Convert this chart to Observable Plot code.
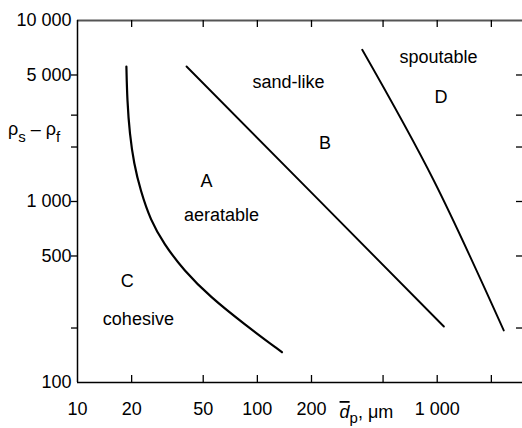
<!DOCTYPE html>
<html>
<head>
<meta charset="utf-8">
<script src="https://cdn.jsdelivr.net/npm/d3@7"></script>
<script src="https://cdn.jsdelivr.net/npm/@observablehq/plot@0.6"></script>
<style>
  html, body { margin: 0; padding: 0; background: #fff; }
</style>
</head>
<body>
<div id="chart"></div>
<script>
// Axis ticks
const xTicks = [10, 20, 50, 100, 200, 500, 1000, 2000];
const xTickLabels = ["10", "20", "50", "100", "200", "", "1 000", ""];
const yTicks = [100, 200, 500, 1000, 2000, 3000, 5000, 10000];
const yTickLabels = ["100", "", "500", "1 000", "", "", "5 000", "10 000"];

// Boundary C / A
const caX = [18.7, 18.9, 19.5, 20.6, 22.4, 25.5, 30.2, 39.0, 54.9, 84.1, 137];
const caY = [5570, 3614, 2366, 1616, 1150, 785, 584, 416, 296, 211, 147];
// Boundary A / B
const abX = [40.4, 209, 1089];
const abY = [5570, 1070, 204];
// Boundary B / D
const bdX = [383, 957, 2344];
const bdY = [6890, 1306, 194];

// Region labels
const regionText = ["sand-like", "spoutable", "D", "B", "A", "aeratable", "C", "cohesive"];
const regionX = [149, 1017, 1050, 237.8, 52.2, 63.2, 18.9, 21.8];
const regionY = [4550, 6285, 3769, 2092, 1290, 838, 361, 225];

const toPts = (xs, ys) => xs.map((x, i) => ({x, y: ys[i]}));
const labels = regionText.map((t, i) => ({t, x: regionX[i], y: regionY[i]}));

const W = 522, H = 428, mL = 77, mR = 0, mT = 20, mB = 46;
const fw = W - mL - mR, fh = H - mT - mB;
const innerY = yTicks.filter((d, i) => i > 0 && i < yTicks.length - 1);
const innerX = xTicks.slice(1);
const font = "'Liberation Sans', Arial, Helvetica, sans-serif";

const plot = Plot.plot({
  width: W, height: H,
  marginLeft: mL, marginRight: mR, marginTop: mT, marginBottom: mB,
  style: {fontFamily: font, fontSize: "18px", background: "#fff", color: "#000"},
  x: {type: "log", domain: [10, 2980]},
  y: {type: "log", domain: [100, 10000]},
  marks: [
    // frame lines
    Plot.ruleY([10000], {stroke: "#555", strokeWidth: 2}),
    Plot.ruleY([100], {stroke: "#000", strokeWidth: 1.5}),
    Plot.ruleX([10], {stroke: "#000", strokeWidth: 1.5}),
    // inward ticks: bottom, top, right
    Plot.tickX(innerX, {x: d => d, insetTop: fh - 7, stroke: "#000", strokeWidth: 1.3}),
    Plot.tickX(innerX, {x: d => d, insetBottom: fh - 7, stroke: "#000", strokeWidth: 1.3}),
    Plot.tickY(innerY, {y: d => d, insetLeft: fw - 6, stroke: "#000", strokeWidth: 1.3}),
    // left outward ticks
    Plot.axisY({ticks: innerY, tickSize: 6, tickFormat: () => "", stroke: "#000", strokeWidth: 1.3, label: null}),
    // left labels
    Plot.axisY({ticks: yTicks.filter((d, i) => yTickLabels[i] !== ""), tickSize: 0, tickPadding: 6,
      tickFormat: d => yTickLabels[yTicks.indexOf(d)], fontSize: 18, label: null}),
    // bottom labels
    Plot.axisX({ticks: xTicks.filter((d, i) => xTickLabels[i] !== ""), tickSize: 0, tickPadding: 20,
      tickFormat: d => xTickLabels[xTicks.indexOf(d)], fontSize: 18, label: null}),
    // boundaries
    Plot.line(toPts(caX, caY), {x: "x", y: "y", curve: "basis", stroke: "#000", strokeWidth: 2.2}),
    Plot.line(toPts(abX, abY), {x: "x", y: "y", curve: "natural", stroke: "#000", strokeWidth: 1.9}),
    Plot.line(toPts(bdX, bdY), {x: "x", y: "y", curve: "natural", stroke: "#000", strokeWidth: 1.9}),
    // region labels
    Plot.text(labels, {x: "x", y: "y", text: "t", fontSize: 18, fill: "#000"})
  ]
});

document.getElementById("chart").appendChild(plot);

// Axis titles with subscript styling
const sx = plot.scale("x"), sy = plot.scale("y");
const svg = d3.select(plot);

const yt = svg.append("text")
  .attr("x", 8).attr("y", sy.apply(2000) - 12)
  .attr("text-anchor", "start")
  .attr("font-family", font).attr("font-size", 18).attr("fill", "#000");
yt.append("tspan").text("ρ");
yt.append("tspan").attr("font-size", 15).attr("dy", 7).text("s");
yt.append("tspan").attr("dy", -7).text(" – ρ");
yt.append("tspan").attr("font-size", 15).attr("dy", 7).text("f");

const xt = svg.append("text")
  .attr("x", sx.apply(500) - 43).attr("y", sy.apply(100) + 36)
  .attr("text-anchor", "start")
  .attr("font-family", font).attr("font-size", 18).attr("fill", "#000");
xt.append("tspan").attr("font-style", "italic").attr("text-decoration", "overline").text("d");
xt.append("tspan").attr("font-size", 15).attr("dy", 5).text("p");
xt.append("tspan").attr("dy", -5).text(", μm");
</script>
</body>
</html>
